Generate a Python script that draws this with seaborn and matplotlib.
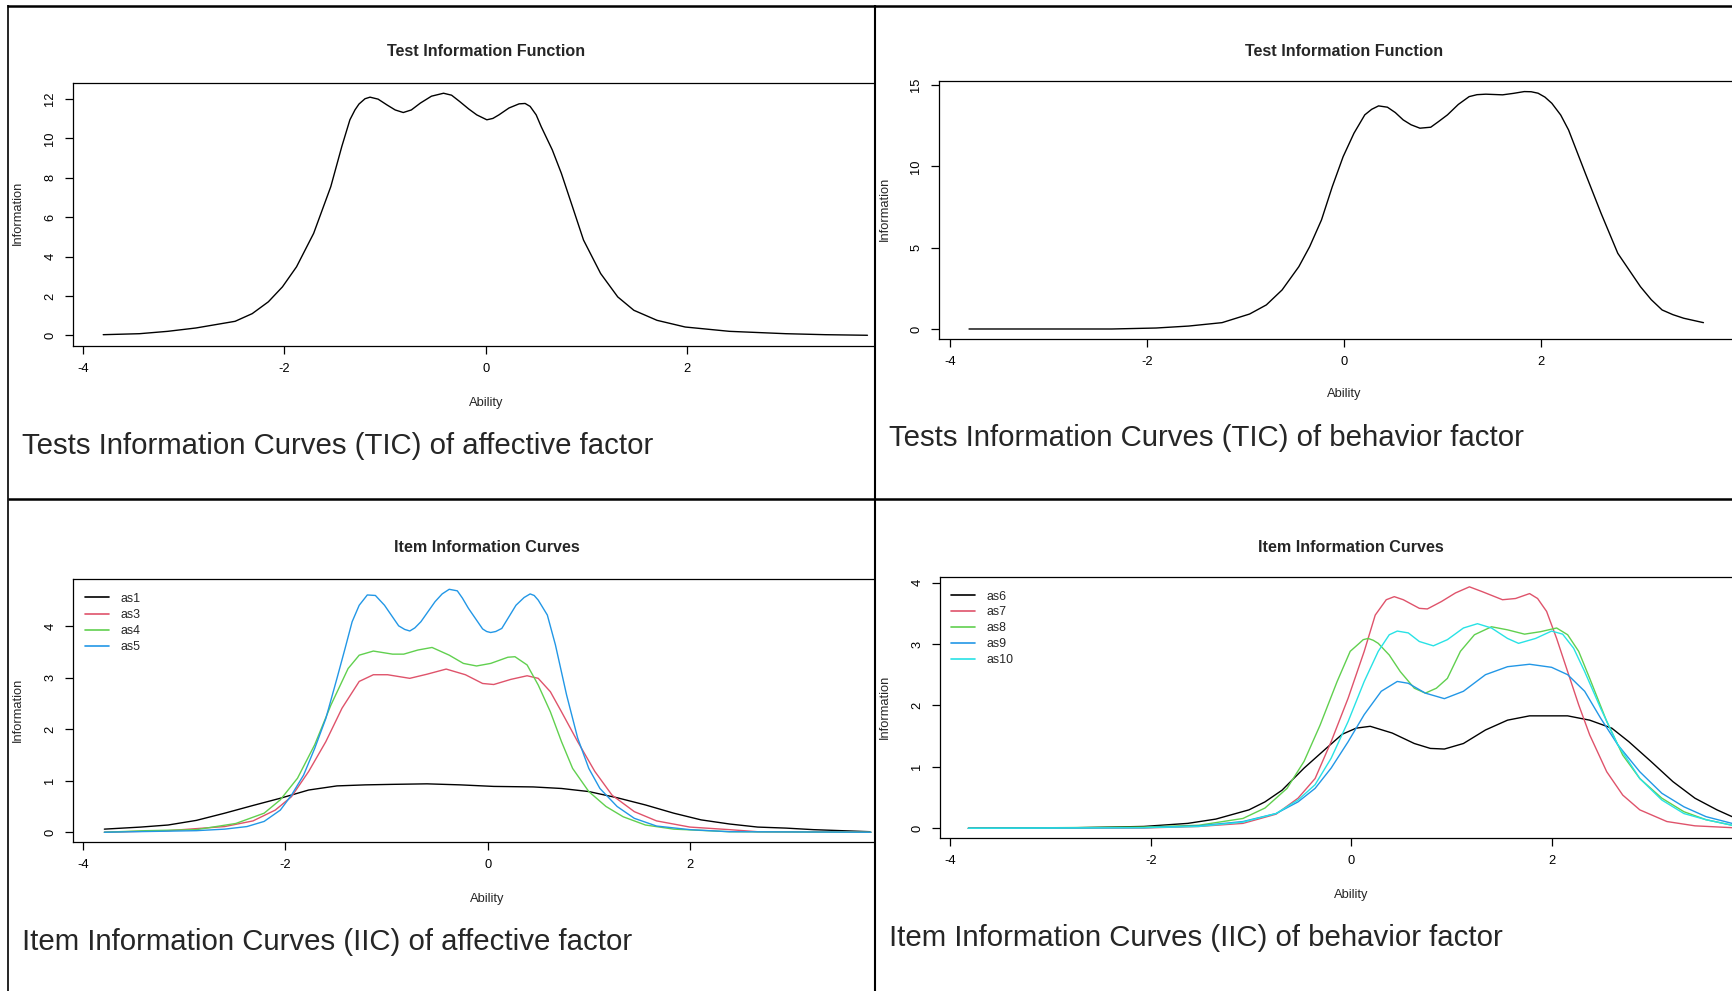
import numpy as np
import pandas as pd
import matplotlib
matplotlib.use("Agg")
import matplotlib.pyplot as plt
import seaborn as sns
from matplotlib.lines import Line2D

# ---------------- data ----------------
theta_tic_aff = [-3.80, -3.44, -3.16, -2.88, -2.49, -2.32, -2.16, -2.02, -1.88, -1.71, -1.54, -1.43,
                 -1.35, -1.30, -1.26, -1.20, -1.15, -1.07, -0.98, -0.90, -0.82, -0.74, -0.65, -0.54,
                 -0.42, -0.34, -0.26, -0.17, -0.09, 0.01, 0.07, 0.13, 0.23, 0.33, 0.39,
                 0.44, 0.50, 0.55, 0.66, 0.75, 0.86, 0.97, 1.14, 1.31, 1.47, 1.70, 1.98, 2.42, 2.98, 3.37, 3.79]
info_tic_aff = [0.03, 0.08, 0.20, 0.37, 0.71, 1.10, 1.70, 2.46, 3.48, 5.18, 7.55, 9.60,
                10.95, 11.45, 11.75, 12.02, 12.10, 12.00, 11.70, 11.45, 11.32, 11.45, 11.80, 12.15,
                12.30, 12.20, 11.88, 11.50, 11.20, 10.95, 11.02, 11.20, 11.55, 11.76, 11.78,
                11.63, 11.20, 10.60, 9.42, 8.23, 6.54, 4.84, 3.14, 1.95, 1.27, 0.76, 0.42, 0.20, 0.08, 0.03, 0.00]

theta_tic_beh = [-3.81, -2.36, -1.91, -1.58, -1.24, -0.96, -0.79, -0.63, -0.46, -0.35, -0.23, -0.12,
                 -0.01, 0.10, 0.21, 0.28, 0.35, 0.44, 0.52, 0.60, 0.68, 0.77, 0.88, 0.96, 1.05, 1.16,
                 1.27, 1.35, 1.44, 1.61, 1.72, 1.83, 1.90, 1.97, 2.04, 2.11, 2.20, 2.28, 2.45, 2.61,
                 2.78, 3.01, 3.12, 3.23, 3.34, 3.45, 3.65]
info_tic_beh = [0.00, 0.00, 0.06, 0.18, 0.39, 0.92, 1.48, 2.40, 3.83, 5.06, 6.70, 8.75,
                10.59, 12.03, 13.16, 13.50, 13.71, 13.63, 13.30, 12.85, 12.55, 12.34, 12.40, 12.75, 13.16, 13.80,
                14.28, 14.40, 14.43, 14.39, 14.48, 14.59, 14.58, 14.49, 14.25, 13.87, 13.15, 12.23, 9.57, 7.11,
                4.65, 2.60, 1.80, 1.17, 0.88, 0.66, 0.39]

theta_as1 = [-3.79, -3.43, -3.16, -2.88, -2.60, -2.32, -2.05, -1.77, -1.49, -1.21, -0.94, -0.60, -0.27,
             0.06, 0.45, 0.73, 1.00, 1.28, 1.56, 1.84, 2.11, 2.39, 2.67, 2.95, 3.22, 3.78]
info_as1 = [0.06, 0.10, 0.14, 0.23, 0.37, 0.52, 0.66, 0.82, 0.90, 0.92, 0.93, 0.94, 0.92,
            0.89, 0.88, 0.85, 0.79, 0.67, 0.53, 0.37, 0.24, 0.16, 0.10, 0.08, 0.05, 0.01]

theta_as3 = [-3.79, -3.16, -2.60, -2.32, -2.10, -1.94, -1.77, -1.60, -1.44, -1.27, -1.13, -0.99, -0.77,
             -0.60, -0.41, -0.22, -0.05, 0.06, 0.23, 0.39, 0.50, 0.62, 0.73, 0.89, 1.06, 1.23, 1.45,
             1.67, 2.00, 2.39, 2.67, 3.79]
info_as3 = [0.00, 0.03, 0.11, 0.22, 0.43, 0.69, 1.18, 1.76, 2.41, 2.93, 3.06, 3.06, 2.99,
            3.07, 3.17, 3.06, 2.89, 2.87, 2.97, 3.04, 2.99, 2.73, 2.34, 1.76, 1.18, 0.72, 0.40,
            0.22, 0.10, 0.05, 0.01, 0.00]

theta_as4 = [-3.79, -3.38, -2.88, -2.49, -2.21, -2.05, -1.88, -1.71, -1.55, -1.38, -1.27, -1.13, -0.94,
             -0.83, -0.69, -0.55, -0.38, -0.24, -0.11, 0.03, 0.20, 0.27, 0.39, 0.50, 0.62, 0.73, 0.84,
             1.00, 1.17, 1.34, 1.56, 1.84, 2.39, 3.79]
info_as4 = [0.00, 0.03, 0.05, 0.17, 0.37, 0.63, 1.05, 1.70, 2.47, 3.18, 3.44, 3.52, 3.46,
            3.46, 3.54, 3.59, 3.44, 3.28, 3.23, 3.28, 3.40, 3.41, 3.25, 2.86, 2.34, 1.76, 1.24,
            0.79, 0.50, 0.30, 0.14, 0.06, 0.01, 0.00]

theta_as5 = [-3.79, -2.88, -2.60, -2.38, -2.21, -2.05, -1.94, -1.82, -1.71, -1.60, -1.49, -1.41, -1.34,
             -1.27, -1.19, -1.11, -1.02, -0.88, -0.82, -0.77, -0.72, -0.66, -0.52, -0.45, -0.38, -0.30,
             -0.25, -0.19, -0.05, -0.01, 0.03, 0.08, 0.14, 0.28, 0.36, 0.42, 0.46, 0.50, 0.59, 0.67, 0.78,
             0.89, 1.00, 1.11, 1.28, 1.45, 1.67, 2.00, 2.39, 3.79]
info_as5 = [0.00, 0.03, 0.06, 0.11, 0.21, 0.43, 0.72, 1.11, 1.63, 2.21, 2.99, 3.57, 4.09,
            4.41, 4.61, 4.60, 4.41, 4.01, 3.94, 3.91, 3.97, 4.09, 4.48, 4.63, 4.72, 4.69,
            4.55, 4.35, 3.95, 3.90, 3.88, 3.90, 3.96, 4.41, 4.56, 4.63, 4.60, 4.51, 4.22, 3.64, 2.67,
            1.83, 1.24, 0.85, 0.50, 0.27, 0.12, 0.05, 0.01, 0.00]

theta_as6 = [-3.82, -2.73, -2.07, -1.63, -1.35, -1.02, -0.86, -0.69, -0.47, -0.25, -0.09, 0.05, 0.19,
             0.41, 0.63, 0.79, 0.93, 1.12, 1.34, 1.56, 1.78, 2.16, 2.38, 2.60, 2.77, 2.99, 3.21, 3.43,
             3.65, 3.80]
info_as6 = [0.00, 0.01, 0.03, 0.08, 0.15, 0.30, 0.43, 0.62, 0.98, 1.30, 1.53, 1.63, 1.66,
            1.55, 1.38, 1.30, 1.29, 1.38, 1.60, 1.76, 1.83, 1.83, 1.76, 1.63, 1.41, 1.09, 0.76, 0.49,
            0.30, 0.19]

theta_as7 = [-3.82, -2.07, -1.52, -1.08, -0.75, -0.53, -0.36, -0.20, -0.03, 0.13, 0.24, 0.35, 0.43,
             0.52, 0.68, 0.76, 0.90, 1.04, 1.18, 1.31, 1.51, 1.64, 1.78, 1.86, 1.95, 2.05, 2.16, 2.27,
             2.38, 2.55, 2.71, 2.88, 3.15, 3.43, 3.80]
info_as7 = [0.00, 0.005, 0.03, 0.08, 0.23, 0.49, 0.81, 1.41, 2.12, 2.88, 3.47, 3.72, 3.77,
            3.72, 3.58, 3.57, 3.69, 3.83, 3.93, 3.85, 3.72, 3.74, 3.82, 3.74, 3.53, 3.09, 2.55, 2.01,
            1.52, 0.92, 0.54, 0.30, 0.11, 0.04, 0.01]

theta_as8 = [-3.82, -2.07, -1.52, -1.08, -0.86, -0.64, -0.47, -0.31, -0.14, -0.01, 0.08, 0.12, 0.17,
             0.22, 0.27, 0.38, 0.49, 0.63, 0.74, 0.85, 0.96, 1.09, 1.23, 1.40, 1.56, 1.73, 1.89, 2.05,
             2.16, 2.27, 2.38, 2.55, 2.71, 2.88, 3.10, 3.32, 3.54, 3.80]
info_as8 = [0.00, 0.02, 0.05, 0.16, 0.33, 0.65, 1.09, 1.68, 2.39, 2.88, 3.01, 3.07, 3.09,
            3.06, 3.01, 2.82, 2.55, 2.28, 2.20, 2.28, 2.44, 2.88, 3.15, 3.28, 3.23, 3.16, 3.20, 3.26,
            3.15, 2.88, 2.44, 1.74, 1.19, 0.81, 0.49, 0.27, 0.14, 0.05]

theta_as9 = [-3.82, -2.07, -1.52, -1.08, -0.75, -0.53, -0.36, -0.20, -0.03, 0.13, 0.30, 0.46, 0.57,
             0.74, 0.93, 1.12, 1.34, 1.56, 1.78, 2.00, 2.16, 2.33, 2.49, 2.66, 2.88, 3.10, 3.32, 3.54, 3.80]
info_as9 = [0.00, 0.01, 0.04, 0.11, 0.24, 0.43, 0.65, 0.98, 1.41, 1.85, 2.23, 2.39, 2.36,
            2.20, 2.11, 2.23, 2.50, 2.63, 2.67, 2.62, 2.50, 2.23, 1.79, 1.36, 0.92, 0.57, 0.35, 0.19, 0.08]

theta_as10 = [-3.82, -2.07, -1.52, -1.08, -0.75, -0.53, -0.36, -0.20, -0.03, 0.13, 0.27, 0.38, 0.46,
              0.57, 0.68, 0.82, 0.96, 1.12, 1.26, 1.40, 1.56, 1.67, 1.84, 2.00, 2.11, 2.22, 2.33, 2.49,
              2.66, 2.88, 3.10, 3.32, 3.54, 3.80]
info_as10 = [0.00, 0.01, 0.03, 0.10, 0.24, 0.46, 0.71, 1.14, 1.74, 2.39, 2.88, 3.15, 3.21,
             3.18, 3.04, 2.97, 3.07, 3.26, 3.33, 3.26, 3.09, 3.01, 3.09, 3.21, 3.16, 2.93, 2.55, 1.95,
             1.36, 0.81, 0.46, 0.24, 0.14, 0.05]

items_aff = ["as1", "as3", "as4", "as5"]
items_beh = ["as6", "as7", "as8", "as9", "as10"]
x_ticks = [-4, -2, 0, 2, 4]
y_ticks_tic_aff = [0, 2, 4, 6, 8, 10, 12]
y_ticks_tic_beh = [0, 5, 10, 15]
y_ticks_iic = [0, 1, 2, 3, 4]

plot_title_tic = "Test Information Function"
plot_title_iic = "Item Information Curves"
x_label = "Ability"
y_label = "Information"
captions = ["Tests Information Curves (TIC) of affective factor",
            "Tests Information Curves (TIC) of behavior factor",
            "Item Information Curves (IIC) of affective factor",
            "Item Information Curves (IIC) of behavior factor"]

r_palette = ["#000000", "#DF536B", "#61D04F", "#2297E6", "#28E2E5"]

# ---------------- style ----------------
sns.set_style("white")
plt.rcParams["font.family"] = ["Liberation Sans", "DejaVu Sans"]
plt.rcParams["axes.unicode_minus"] = False
plt.rcParams["lines.solid_joinstyle"] = "round"

W, H = 1732, 991
fig = plt.figure(figsize=(W / 100, H / 100), dpi=100)
fig.patch.set_facecolor("white")

LW = 1.0


def fx(x):
    return x / W


def fy(y):
    return 1 - y / H


def make_axes(left, right, top, bottom, xlim, ylim, yticks):
    ax = fig.add_axes([fx(left), fy(bottom), (right - left) / W, (bottom - top) / H])
    ax.set_facecolor("white")
    for s in ["left", "top", "bottom"]:
        ax.spines[s].set_visible(True)
        ax.spines[s].set_color("black")
        ax.spines[s].set_linewidth(0.9)
    ax.spines["right"].set_visible(False)
    ax.set_xticks(x_ticks)
    ax.set_yticks(yticks)
    ax.set_xlim(*xlim)
    ax.set_ylim(*ylim)
    ax.tick_params(axis="both", direction="out", length=6, width=0.9, colors="black",
                   labelsize=9.3, bottom=True, left=True)
    ax.tick_params(axis="x", pad=6)
    ax.tick_params(axis="y", pad=6, labelrotation=90)
    for lab in ax.get_yticklabels():
        lab.set_va("center")
    ax.grid(False)
    return ax


def label_texts(title_xy, title, xlab_xy, ylab_xy):
    fig.text(fx(title_xy[0]), fy(title_xy[1]), title, ha="center", va="center",
             fontsize=11.6, fontweight="bold")
    fig.text(fx(xlab_xy[0]), fy(xlab_xy[1]), x_label, ha="center", va="center", fontsize=9.3)
    fig.text(fx(ylab_xy[0]), fy(ylab_xy[1]), y_label, ha="center", va="center", fontsize=9.3,
             rotation=90)


# ---- top-left: TIC affective
ax1 = make_axes(73, 874, 83, 346, (-4.10, 3.855), (-0.545, 12.82), y_ticks_tic_aff)
sns.lineplot(x=theta_tic_aff, y=info_tic_aff, color="black", linewidth=LW, sort=False, ax=ax1)
label_texts((486, 52), plot_title_tic, (486, 403), (18, 213))

# ---- top-right: TIC behavior
ax2 = make_axes(939, 1732, 81, 339, (-4.115, 3.94), (-0.615, 15.24), y_ticks_tic_beh)
sns.lineplot(x=theta_tic_beh, y=info_tic_beh, color="black", linewidth=LW, sort=False, ax=ax2)
label_texts((1344, 52), plot_title_tic, (1344, 394), (885, 209))


def long_df(names, thetas, infos):
    frames = []
    for n, t, v in zip(names, thetas, infos):
        frames.append(pd.DataFrame({"theta": t, "info": v, "item": n}))
    return pd.concat(frames, ignore_index=True)


def restyle_legend(ax, anchor_x, anchor_y, spacing):
    leg = ax.get_legend()
    handles = list(leg.legend_handles)
    labels = [t.get_text() for t in leg.get_texts()]
    for h in handles:
        h.set_linewidth(1.2)
    ax.legend(handles, labels, loc="upper left", bbox_to_anchor=(fx(anchor_x), fy(anchor_y)),
              bbox_transform=fig.transFigure, frameon=False, fontsize=8.9, handlelength=1.95,
              handletextpad=0.95, labelspacing=spacing, borderpad=0, borderaxespad=0)


# ---- bottom-left: IIC affective
df_aff = long_df(items_aff, [theta_as1, theta_as3, theta_as4, theta_as5],
                 [info_as1, info_as3, info_as4, info_as5])
ax3 = make_axes(73, 874, 579, 842, (-4.10, 3.82), (-0.19, 4.92), y_ticks_iic)
sns.lineplot(data=df_aff, x="theta", y="info", hue="item", hue_order=items_aff,
             palette=r_palette[:4], estimator=None, errorbar=None, sort=False,
             linewidth=LW, ax=ax3)
ax3.set_xlabel("")
ax3.set_ylabel("")
restyle_legend(ax3, 85, 592.5, 0.35)
label_texts((487, 548), plot_title_iic, (487, 899), (18, 710))

# ---- bottom-right: IIC behavior
df_beh = long_df(items_beh, [theta_as6, theta_as7, theta_as8, theta_as9, theta_as10],
                 [info_as6, info_as7, info_as8, info_as9, info_as10])
ax4 = make_axes(940, 1732, 577, 838, (-4.103, 3.80), (-0.158, 4.09), y_ticks_iic)
sns.lineplot(data=df_beh, x="theta", y="info", hue="item", hue_order=items_beh,
             palette=r_palette, estimator=None, errorbar=None, sort=False,
             linewidth=LW, ax=ax4)
ax4.set_xlabel("")
ax4.set_ylabel("")
restyle_legend(ax4, 951, 590.5, 0.32)
label_texts((1351, 547), plot_title_iic, (1351, 895), (885, 707))

for a in (ax1, ax2):
    a.set_xlabel("")
    a.set_ylabel("")

# ---- captions
CAP = 21.2
fig.text(fx(22), fy(446.5), captions[0], ha="left", va="center", fontsize=CAP)
fig.text(fx(889), fy(438.5), captions[1], ha="left", va="center", fontsize=CAP)
fig.text(fx(22), fy(942.5), captions[2], ha="left", va="center", fontsize=CAP)
fig.text(fx(889), fy(938.5), captions[3], ha="left", va="center", fontsize=CAP)


# ---- table borders
def hline(y, x0, x1, lw):
    fig.add_artist(Line2D([fx(x0), fx(x1)], [fy(y), fy(y)], transform=fig.transFigure,
                          color="black", linewidth=lw, solid_capstyle="butt"))


def vline(x, y0, y1, lw):
    fig.add_artist(Line2D([fx(x), fx(x)], [fy(y0), fy(y1)], transform=fig.transFigure,
                          color="black", linewidth=lw, solid_capstyle="butt"))


hline(6, 7, W, 1.8)
hline(499, 8, W, 1.8)
vline(8, 5, H, 1.2)
vline(875, 5, H, 1.5)

fig.savefig("out.png", dpi=100, facecolor="white")
